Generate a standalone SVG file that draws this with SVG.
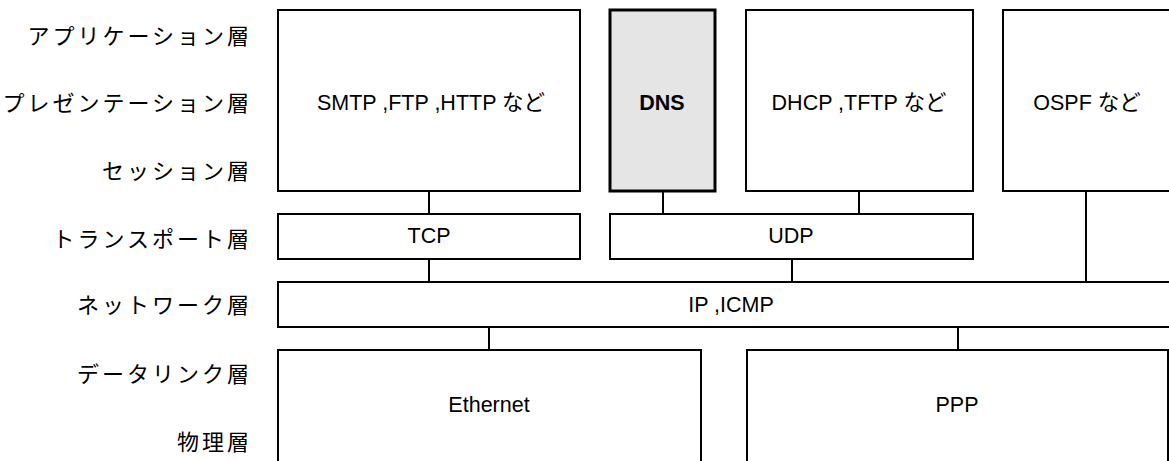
<svg xmlns="http://www.w3.org/2000/svg" width="1169" height="461" viewBox="0 0 1169 461">
<style>
.box{fill:#fff;stroke:#000;stroke-width:2}
.hl{fill:#e5e5e5;stroke:#000;stroke-width:3}
.t{font-family:"Liberation Sans","Noto Sans CJK JP",sans-serif;font-size:21.5px;fill:#000;text-anchor:middle}
.b{font-weight:bold}
.lab{font-family:"Noto Sans CJK JP","Noto Sans CJK SC",sans-serif;font-size:22px;fill:#000;text-anchor:end;letter-spacing:3px}
.c{stroke:#000;stroke-width:2;fill:none}
</style>
<rect width="1169" height="461" fill="#fff"/>
<g id="labels">
<text class="lab" x="252" y="44">アプリケーション層</text>
<text class="lab" x="252" y="111">プレゼンテーション層</text>
<text class="lab" x="252" y="179">セッション層</text>
<text class="lab" x="252" y="247">トランスポート層</text>
<text class="lab" x="252" y="313">ネットワーク層</text>
<text class="lab" x="252" y="382">データリンク層</text>
<text class="lab" x="252" y="450">物理層</text>
</g>
<g id="connectors">
<line class="c" x1="429" y1="191" x2="429" y2="214"/>
<line class="c" x1="663" y1="191" x2="663" y2="214"/>
<line class="c" x1="859" y1="191" x2="859" y2="214"/>
<line class="c" x1="1086" y1="191" x2="1086" y2="282"/>
<line class="c" x1="429" y1="259" x2="429" y2="282"/>
<line class="c" x1="792" y1="259" x2="792" y2="282"/>
<line class="c" x1="489" y1="327" x2="489" y2="350"/>
<line class="c" x1="958" y1="327" x2="958" y2="350"/>
</g>
<g id="smtp"><rect class="box" x="278" y="10" width="302" height="181"/><text class="t" x="431" y="110">SMTP ,FTP ,HTTP など</text></g>
<g id="dns"><rect class="hl" x="610" y="10" width="105" height="181"/><text class="t b" x="662" y="110">DNS</text></g>
<g id="dhcp"><rect class="box" x="746" y="10" width="227" height="181"/><text class="t" x="859" y="110">DHCP ,TFTP など</text></g>
<g id="ospf"><rect class="box" x="1003" y="10" width="180" height="181"/><text class="t" x="1087" y="110">OSPF など</text></g>
<g id="tcp"><rect class="box" x="278" y="214" width="302" height="45"/><text class="t" x="429" y="243">TCP</text></g>
<g id="udp"><rect class="box" x="610" y="214" width="363" height="45"/><text class="t" x="791" y="243">UDP</text></g>
<g id="ip"><rect class="box" x="278" y="282" width="910" height="45"/><text class="t" x="731" y="312">IP ,ICMP</text></g>
<g id="ethernet"><rect class="box" x="278" y="350" width="423" height="130"/><text class="t" x="489" y="412">Ethernet</text></g>
<g id="ppp"><rect class="box" x="747" y="350" width="421" height="130"/><text class="t" x="957" y="412">PPP</text></g>
</svg>
